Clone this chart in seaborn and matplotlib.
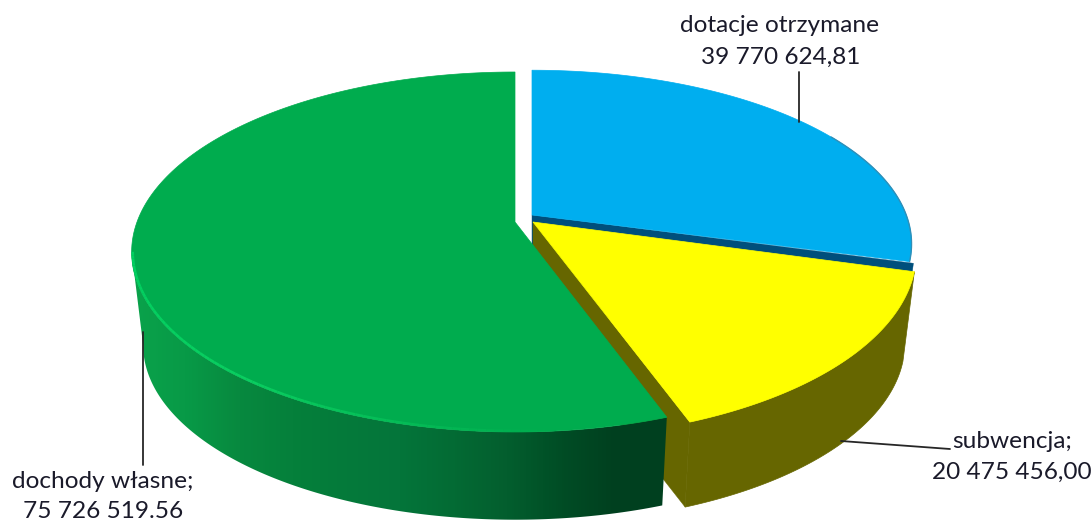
import numpy as np
import matplotlib
matplotlib.use("Agg")
import matplotlib.pyplot as plt
from matplotlib.collections import LineCollection
from matplotlib.patches import Polygon
import seaborn as sns

# slice values, clockwise from the top
names = ["dotacje otrzymane", "subwencja", "dochody własne"]
values = [39770624.81, 20475456.00, 75726519.56]
value_labels = ["39 770 624,81", "20 475 456,00", "75 726 519.56"]

sns.set_theme(style="white")
plt.rcParams["font.family"] = ["Lato", "DejaVu Sans"]

# pseudo 3D projection of the pie, all in pixels of the picture
RX, RY, K = 378, 175, 1 / 6
BOTTOM_SCALE = 0.97
# angle where the projected circle is widest on the left, the wall ends there
LEFT_EDGE = 180 + np.degrees(np.arccos(K))


def project(deg, apex, yscale=1.0, drop=0, scale=1.0):
    t = np.radians(deg)
    c, s = np.sin(t), -np.cos(t)
    d = 1 - K * s
    return apex[0] + scale * RX * c / d, apex[1] + drop + scale * yscale * RY * s / d


def top_face(ax, a0, a1, apex, color, yscale=1.0, scale=1.0):
    deg = np.linspace(a0, a1, 200)
    x, y = project(deg, apex, yscale, 0, scale)
    ax.fill(np.r_[apex[0], x], np.r_[apex[1], y], color=color, lw=0.5, zorder=3)


def wall_outline(a0, a1, apex, drop, yscale=1.0):
    deg = np.linspace(a0, a1, 200)
    x1, y1 = project(deg, apex, yscale)
    x2, y2 = project(deg[::-1], apex, yscale, drop, BOTTOM_SCALE)
    return np.r_[x1, x2], np.r_[y1, y2]


def cut_wall(ax, ang, apex, color, drop, yscale=1.0):
    x1, y1 = project(ang, apex, yscale)
    x2, y2 = project(ang, apex, yscale, drop, BOTTOM_SCALE)
    ax.fill([apex[0], x1, x2, apex[0]], [apex[1], y1, y2, apex[1] + drop],
            color=color, lw=0.3, zorder=2)


fig, ax = plt.subplots(figsize=(10.92, 5.22), dpi=100)
fig.subplots_adjust(0, 0, 1, 1)
ax.axis("off")

shares = np.array(values) / np.sum(values) * 360
ends = np.cumsum(shares)

# blue, at the back
blue_apex = (532, 215)
cut_wall(ax, ends[0], blue_apex, "#004f7c", 94)
top_face(ax, 0, ends[0], blue_apex, "#00aeef", 0.975, 0.99)
x, y = project(np.linspace(60, ends[0], 60), blue_apex, 0.975, 0, 0.99)
ax.plot(x, y, color="#2f8fb8", lw=1, zorder=3)

# yellow
yellow_apex = (533, 222)
cut_wall(ax, ends[1], yellow_apex, "#666600", 91, 1.03)
x, y = wall_outline(ends[0], ends[1], yellow_apex, 91, 1.03)
ax.fill(x, y, color="#666600", lw=0.5, zorder=2)
top_face(ax, ends[0], ends[1], yellow_apex, "#ffff00", 1.03)

# green, the wall gradient runs left to right across the picture
green_apex = (515, 222)
green_start = ends[1] + 0.7
wall_stops = ["#0aa34b", "#089a47", "#07893f", "#05803b", "#047a3a", "#04753a",
              "#036b34", "#035e2e", "#004d25", "#00401f", "#00401f"]
wall_cmap = sns.blend_palette(wall_stops, as_cmap=True)
x, y = wall_outline(green_start, LEFT_EDGE, green_apex, 94)
wall_img = ax.imshow(np.linspace(0, 1, 540)[None, :], cmap=wall_cmap, aspect="auto",
                     extent=(130, 670, 522, 0), zorder=2)
wall_img.set_clip_path(Polygon(np.column_stack([x, y]), transform=ax.transData))
top_face(ax, green_start, 360, green_apex, "#00ac4e")

# light rim along the front edge of the green slice
deg = np.linspace(LEFT_EDGE, 175, 80)
x, y = project(deg, green_apex, 0.997, 0, 0.997)
pts = np.column_stack([x, y])
rim = LineCollection(np.stack([pts[:-1], pts[1:]], axis=1),
                     colors=sns.blend_palette(["#00d060", "#0ace60", "#00ac4e"], 79),
                     linewidths=1.8, zorder=4)
ax.add_collection(rim)

# leader lines
ax.plot([799, 799], [72, 122], color="#262626", lw=1.3, zorder=5)
ax.plot([841, 950], [441, 449], color="#262626", lw=1.3, zorder=5)
ax.plot([143, 143], [332, 465], color="#262626", lw=1.3, zorder=5)

# labels
txt = dict(ha="center", va="center", fontsize=17.6, color="#1a1a2a", zorder=6)
ax.text(780, 25, names[0], **txt)
ax.text(781, 57, value_labels[0], **txt)
ax.text(1012, 441, names[1] + ";", **txt)
ax.text(1012, 472, value_labels[1], **txt)
ax.text(103, 481, names[2] + ";", **txt)
ax.text(103, 512, value_labels[2], **txt)

ax.set_xlim(0, 1092)
ax.set_ylim(522, 0)
fig.savefig("out.png", dpi=100)
